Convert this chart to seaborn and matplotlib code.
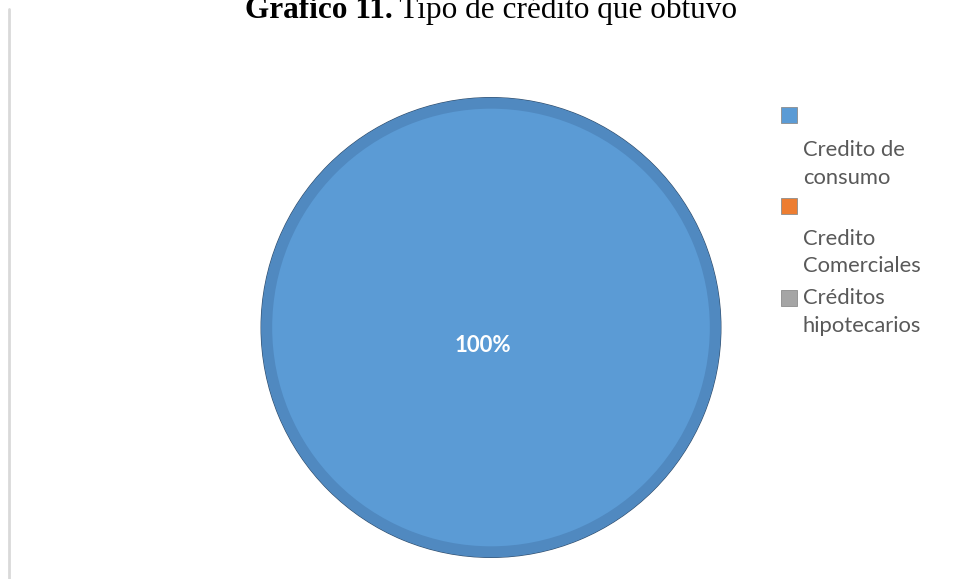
import textwrap
import matplotlib
matplotlib.use("Agg")
import matplotlib.pyplot as plt
from matplotlib.patches import Rectangle
from matplotlib.lines import Line2D
import seaborn as sns

# Data
categories = ["Credito de consumo", "Credito Comerciales", "Créditos hipotecarios"]
shares = [100, 0, 0]
colors = ["#5B9BD5", "#ED7D31", "#A5A5A5"]
ring_colors = ["#5089C0", "#D46F2B", "#949494"]
title_bold = "Grafico 11."
title_rest = " Tipo de crédito que obtuvo"

sns.set_theme(style="white")
plt.rcParams["font.family"] = ["Lato", "DejaVu Sans"]

W, H = 957, 579
fig = plt.figure(figsize=(W / 100, H / 100), dpi=100)
fig.patch.set_facecolor("white")


def px(x, y):
    return x / W, 1 - y / H


# Pie axes (centre 491, 327.5; radius 231 px)
cx, cy, r = 491, 327.5, 231
ax = fig.add_axes([(cx - r) / W, (H - cy - r) / H, 2 * r / W, 2 * r / H])
wedges, texts, autotexts = ax.pie(
    shares,
    colors=colors,
    startangle=90,
    counterclock=False,
    autopct=lambda p: f"{p:.0f}%" if p > 0 else "",
    pctdistance=0.08,
    wedgeprops=dict(edgecolor="none"),
    textprops=dict(color="white", fontsize=16, fontweight="bold"),
)
# darker rim around the slices
rim, _ = ax.pie(
    shares,
    colors=ring_colors,
    startangle=90,
    counterclock=False,
    wedgeprops=dict(width=0.048, edgecolor="none"),
)
# thin dark outline on the outside of non-empty slices only
for w, v in zip(wedges, shares):
    if v > 0:
        w.set_edgecolor("#34506E")
        w.set_linewidth(0.9)
        w.set_zorder(0.5)
ax.set_xlim(-1.005, 1.005)
ax.set_ylim(-1.005, 1.005)
ax.set_aspect("equal")
ax.axis("off")
for t in autotexts:
    t.set_x(t.get_position()[0] - 0.035)

# Left border line of the chart area
fig.add_artist(Line2D([9 / W, 9 / W], [0, 1 - 9 / H], color="#D9D9D9", lw=2,
                      transform=fig.transFigure))

# Title: bold figure number followed by regular text, centred as one line
renderer = fig.canvas.get_renderer()
tfont = dict(family="Liberation Serif", fontsize=22.5, color="black", va="baseline")
tb = fig.text(0, 0, title_bold, fontweight="bold", **tfont)
tr = fig.text(0, 0, title_rest, **tfont)
wb = tb.get_window_extent(renderer).width
wr = tr.get_window_extent(renderer).width
x0 = 491 - (wb + wr) / 2
base_y = 18
tb.set_position(px(x0, base_y))
tr.set_position(px(x0 + wb, base_y))

# Legend
legend_color = "#595959"
marker_y = [115, 206, 298]
text_y = [150, 239, 298]
sq = 16
line_h = 27.5
for name, col, my, ty in zip(categories, colors, marker_y, text_y):
    fig.add_artist(Rectangle(px(781, my + sq / 2), sq / W, sq / H, facecolor=col,
                             edgecolor="#8C8C8C", lw=0.6, transform=fig.transFigure))
    for k, line in enumerate(textwrap.wrap(name, 12)):
        fig.text(*px(803, ty + k * line_h), line, fontsize=15.8, color=legend_color,
                 ha="left", va="center")

fig.savefig("out.png", dpi=100)
